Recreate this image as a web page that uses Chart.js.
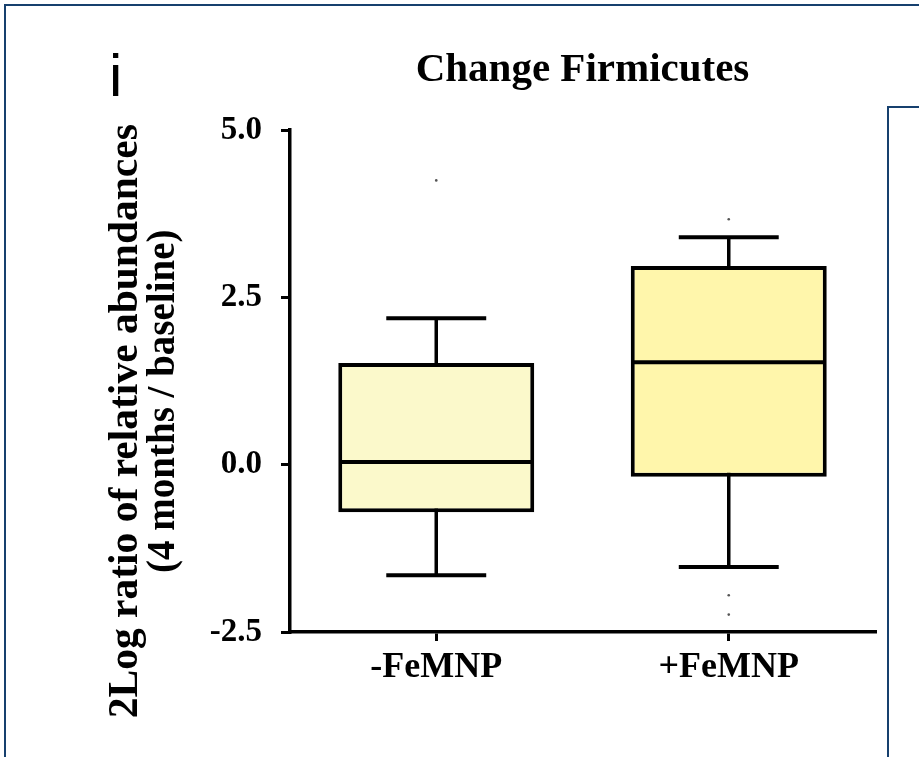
<!DOCTYPE html>
<html><head><meta charset="utf-8">
<script src="https://cdn.jsdelivr.net/npm/chart.js@4.4.0/dist/chart.umd.min.js"></script>
<style>
html,body{margin:0;padding:0;background:#fff;}
#wrap{position:relative;width:919px;height:757px;overflow:hidden;background:#fff;}
#c{position:absolute;left:0;top:0;}
#frame{position:absolute;left:4px;top:4px;width:960px;height:800px;border:2px solid #16406e;box-sizing:border-box;pointer-events:none;}
#frame2{position:absolute;left:887px;top:106px;width:80px;height:700px;border:2px solid #16406e;box-sizing:border-box;pointer-events:none;}
</style></head>
<body><div id="wrap"><canvas id="c" width="919" height="757"></canvas><div id="frame"></div><div id="frame2"></div></div>
<script>
// ---- data ----
const panelLetter = 'i';
const chartTitle = 'Change Firmicutes';
const yTitleLines = ['2Log ratio of relative abundances', '(4 months / baseline)'];
const categories = ['-FeMNP', '+FeMNP'];
const whiskerMin = [-1.65, -1.53];
const q1 = [-0.71, -0.18];
const median = [0.04, 1.53];
const q3 = [1.52, 2.97];
const whiskerMax = [2.19, 3.40];
const outliersMinus = [4.25];
const outliersPlus = [3.67, -1.95, -2.24];
const yTicks = [-2.5, 0.0, 2.5, 5.0];
const boxColors = ['#fbf9cb', '#fff6ab'];

const serif = '"Liberation Serif", "Times New Roman", serif';

const boxPlugin = {
  id: 'boxParts',
  beforeDatasetsDraw(chart) {
    const meta = chart.getDatasetMeta(0);
    const ys = chart.scales.y;
    const ctx = chart.ctx;
    ctx.save();
    ctx.strokeStyle = '#000';
    ctx.lineWidth = 3.5;
    meta.data.forEach((bar, i) => {
      const x = bar.x;
      const pMed = ys.getPixelForValue(median[i]);
      ctx.beginPath();
      ctx.moveTo(x, pMed); ctx.lineTo(x, ys.getPixelForValue(whiskerMax[i]));
      ctx.moveTo(x, pMed); ctx.lineTo(x, ys.getPixelForValue(whiskerMin[i]));
      ctx.stroke();
    });
    ctx.restore();
  },
  afterDatasetsDraw(chart) {
    const meta = chart.getDatasetMeta(0);
    const ys = chart.scales.y;
    const ctx = chart.ctx;
    ctx.save();
    ctx.strokeStyle = '#000';
    ctx.lineCap = 'butt';
    meta.data.forEach((bar, i) => {
      const x = bar.x, half = bar.width / 2, capHalf = bar.width * 0.255;
      const pMed = ys.getPixelForValue(median[i]);
      const pMin = ys.getPixelForValue(whiskerMin[i]);
      const pMax = ys.getPixelForValue(whiskerMax[i]);
      ctx.lineWidth = 4;
      ctx.beginPath(); ctx.moveTo(x - half + 2, pMed); ctx.lineTo(x + half - 2, pMed); ctx.stroke();
      ctx.beginPath();
      ctx.moveTo(x - capHalf, pMax); ctx.lineTo(x + capHalf, pMax);
      ctx.moveTo(x - capHalf, pMin); ctx.lineTo(x + capHalf, pMin);
      ctx.stroke();
    });
    ctx.restore();
  },
  afterDraw(chart) {
    const ctx = chart.ctx;
    const a = chart.chartArea;
    ctx.save();
    ctx.fillStyle = '#000';
    ctx.textAlign = 'center';
    ctx.textBaseline = 'middle';
    const sizes = [41.5, 39];
    const lineX = [a.left - 164, a.left - 126];
    const lineY = [a.top + 291, a.top + 271];
    yTitleLines.forEach((t, k) => {
      ctx.save();
      ctx.font = 'bold ' + sizes[k] + 'px ' + serif;
      ctx.translate(lineX[k], lineY[k]);
      ctx.rotate(-Math.PI / 2);
      ctx.fillText(t, 0, 0);
      ctx.restore();
    });
    ctx.font = '60px "Liberation Sans", Arial, sans-serif';
    ctx.textAlign = 'left';
    ctx.textBaseline = 'alphabetic';
    ctx.fillText(panelLetter, 109, 96);
    ctx.restore();
  }
};

new Chart(document.getElementById('c'), {
  type: 'bar',
  data: {
    labels: categories,
    datasets: [
      {
        type: 'bar',
        data: categories.map((c, i) => [q1[i], q3[i]]),
        backgroundColor: boxColors,
        borderColor: '#000',
        borderWidth: 4,
        borderSkipped: false,
        barPercentage: 0.67,
        categoryPercentage: 1.0,
        order: 2
      },
      {
        type: 'line',
        data: outliersMinus.map(v => ({x: categories[0], y: v}))
          .concat(outliersPlus.map(v => ({x: categories[1], y: v}))),
        showLine: false,
        pointRadius: 1.3,
        pointBackgroundColor: '#555',
        pointBorderWidth: 0,
        order: 1
      }
    ]
  },
  options: {
    responsive: false,
    animation: false,
    devicePixelRatio: 1,
    events: [],
    layout: {padding: {left: 0, right: 44, top: 20, bottom: 0}},
    plugins: {
      legend: {display: false},
      tooltip: {enabled: false},
      title: {
        display: true, text: chartTitle, fullSize: false, color: '#000',
        font: {family: serif, size: 41, weight: 'bold', lineHeight: 1.2},
        padding: {top: 26, bottom: 35}
      }
    },
    scales: {
      x: {
        offset: true,
        grid: {display: true, drawOnChartArea: false, drawTicks: true, tickLength: 9, offset: false, color: '#000', lineWidth: 3},
        border: {display: true, color: '#000', width: 3.5},
        ticks: {color: '#000', font: {family: serif, size: 36, weight: 'bold'}, padding: 5, maxRotation: 0},
        afterFit(s) { s.height = 125; }
      },
      y: {
        min: -2.5, max: 5,
        afterBuildTicks(s) { s.ticks = yTicks.map(v => ({value: v})); },
        grid: {display: true, drawOnChartArea: false, drawTicks: true, tickLength: 9, color: '#000', lineWidth: 3},
        border: {display: true, color: '#000', width: 3.5},
        ticks: {color: '#000', font: {family: serif, size: 33, weight: 'bold'}, padding: 19, callback: v => Number(v).toFixed(1)},
        afterFit(s) { s.width = 290; }
      }
    }
  },
  plugins: [boxPlugin]
});
</script>
</body></html>
